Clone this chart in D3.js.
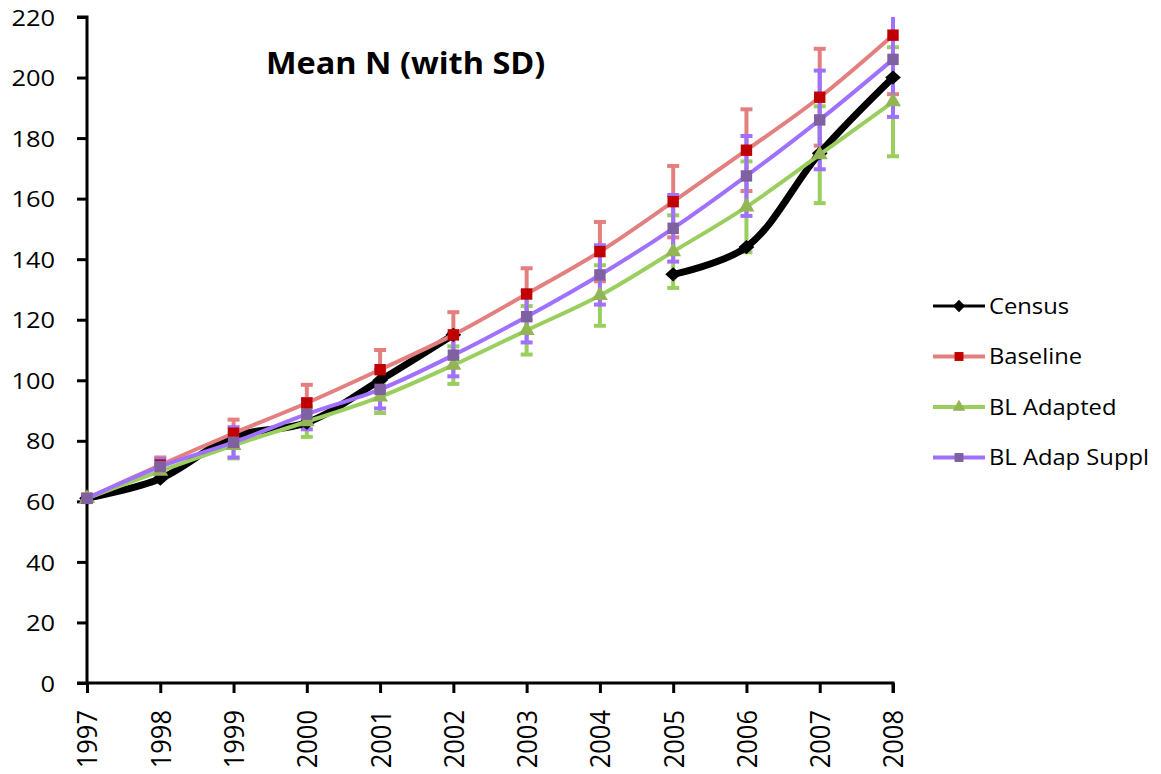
<!DOCTYPE html>
<html>
<head>
<meta charset="utf-8">
<script src="https://cdn.jsdelivr.net/npm/d3@7"></script>
<style>
  body { margin: 0; background: white; }
  text { font-family: "Open Sans", sans-serif; fill: black; }
</style>
</head>
<body>
<div id="chart"></div>
<script>
const years = [1997, 1998, 1999, 2000, 2001, 2002, 2003, 2004, 2005, 2006, 2007, 2008];
const census = [61, 67.5, 81.5, 86, 100, 115, null, null, 135, 144, 175, 200];
const baseline = [61, 72, 82.5, 92.5, 103.5, 115, 128.5, 142.5, 159, 176, 193.5, 214];
const baselineSD = [0, 2.5, 4.5, 6, 6.5, 7.5, 8.5, 9.8, 11.8, 13.5, 16, 19.5];
const adapted = [61, 70, 78.5, 86.3, 94.5, 105, 116.5, 128, 142.5, 157.3, 174.5, 192];
const adaptedSD = [0, 2, 4.3, 5, 5.3, 6.2, 8, 10, 12, 15, 16, 18];
const suppl = [61, 71.5, 79.5, 88.8, 97, 108.3, 121, 134.8, 150.2, 167.5, 186, 206];
const supplSD = [0, 2.5, 5, 5, 6.3, 7, 8.5, 9.8, 11, 13.2, 16.3, 19];
const yTicks = [0, 20, 40, 60, 80, 100, 120, 140, 160, 180, 200, 220];

const wSvg = 1161;
const hSvg = 774;
const pLeft = 87, pRight = 893, pTop = 17, pBottom = 683;

const series = [
    {name: "Census", values: census, sd: null, line: "#000000", marker: "#000000", shape: d3.symbolDiamond, width: 7, size: 150},
    {name: "Baseline", values: baseline, sd: baselineSD, line: "#E47F7F", marker: "#C00000", shape: d3.symbolSquare, width: 4, size: 130},
    {name: "BL Adapted", values: adapted, sd: adaptedSD, line: "#9ACF5F", marker: "#93B556", shape: d3.symbolTriangle, width: 4, size: 110},
    {name: "BL Adap Suppl", values: suppl, sd: supplSD, line: "#A070FF", marker: "#7F60A0", shape: d3.symbolSquare, width: 4, size: 130}
];

let xScale = d3.scalePoint(years, [pLeft, pRight]);
let yScale = d3.scaleLinear([0, 220], [pBottom, pTop]);

let svg = d3.select("#chart")
    .append("svg")
    .attr("width", wSvg)
    .attr("height", hSvg);

svg.append("defs").append("clipPath")
    .attr("id", "plotClip")
    .append("rect")
    .attr("x", 0)
    .attr("y", pTop)
    .attr("width", wSvg)
    .attr("height", pBottom - pTop + 20);

// axes (the original picture is a bit stretched sideways, so text gets a small x scale)
let yAxis = d3.axisLeft(yScale).tickValues(yTicks).tickSize(10);
let yG = svg.append("g")
    .attr("transform", `translate(${pLeft}, 0)`)
    .call(yAxis);
yG.selectAll("text")
    .style("font-size", "22.5px")
    .attr("x", 0)
    .attr("dy", "0.36em")
    .attr("transform", "translate(-32, 0) scale(1.13, 1)");

let xAxis = d3.axisBottom(xScale).tickSize(10);
let xG = svg.append("g")
    .attr("transform", `translate(0, ${pBottom})`)
    .call(xAxis);
xG.selectAll("text")
    .style("font-size", "25.5px")
    .attr("text-anchor", "end")
    .attr("x", 0)
    .attr("y", 0)
    .attr("dy", "0.36em")
    .attr("transform", "translate(0, 27) scale(1.08, 1) rotate(-90)");

svg.selectAll(".domain, .tick line")
    .attr("stroke", "black")
    .attr("stroke-width", 3);
yG.select(".domain").attr("d", `M-10,${pTop}H0V${pBottom}`);
xG.select(".domain").attr("d", `M${pLeft - 10},0H${pRight}V10`);

let plot = svg.append("g").attr("clip-path", "url(#plotClip)");

// error bars
for (let s of series) {
    if (!s.sd) continue;
    let g = plot.append("g");
    let rows = years.map((y, i) => ({year: y, v: s.values[i], sd: s.sd[i]})).filter(d => d.sd > 0);
    g.selectAll(null)
        .data(rows)
        .enter()
        .append("line")
        .attr("x1", d => xScale(d.year))
        .attr("x2", d => xScale(d.year))
        .attr("y1", d => yScale(d.v - d.sd))
        .attr("y2", d => yScale(d.v + d.sd))
        .attr("stroke", s.line)
        .attr("stroke-width", 4);
    for (let sign of [-1, 1]) {
        g.selectAll(null)
            .data(rows)
            .enter()
            .append("line")
            .attr("x1", d => xScale(d.year) - 6)
            .attr("x2", d => xScale(d.year) + 6)
            .attr("y1", d => yScale(d.v + sign * d.sd))
            .attr("y2", d => yScale(d.v + sign * d.sd))
            .attr("stroke", s.line)
            .attr("stroke-width", 4);
    }
}

// lines and markers
for (let s of series) {
    let pts = years.map((y, i) => ({year: y, v: s.values[i]}));
    let line = d3.line()
        .defined(d => d.v !== null)
        .x(d => xScale(d.year))
        .y(d => yScale(d.v))
        .curve(d3.curveCatmullRom.alpha(0.5));
    plot.append("path")
        .attr("d", line(pts))
        .attr("fill", "none")
        .attr("stroke", s.line)
        .attr("stroke-width", s.width)
        .attr("stroke-linejoin", "round");
    plot.selectAll(null)
        .data(pts.filter(d => d.v !== null))
        .enter()
        .append("path")
        .attr("d", d3.symbol().type(s.shape).size(s.size))
        .attr("transform", d => `translate(${xScale(d.year)}, ${yScale(d.v)})` + (s.shape === d3.symbolDiamond ? " scale(1.2, 0.62)" : ""))
        .attr("fill", s.marker);
}

// title
svg.append("text")
    .attr("transform", "translate(266, 74) scale(1.1, 1)")
    .style("font-size", "29.5px")
    .style("font-weight", "bold")
    .text("Mean N (with SD)");

// legend
let legend = svg.append("g");
series.forEach((s, i) => {
    let y = 306 + i * 50.5;
    legend.append("line")
        .attr("x1", 933)
        .attr("x2", 985)
        .attr("y1", y)
        .attr("y2", y)
        .attr("stroke", s.line)
        .attr("stroke-width", s.name === "Census" ? 3 : 4);
    legend.append("path")
        .attr("d", d3.symbol().type(s.shape).size(s.shape === d3.symbolDiamond ? 90 : s.shape === d3.symbolTriangle ? 70 : 80))
        .attr("transform", `translate(959, ${y})` + (s.shape === d3.symbolDiamond ? " scale(1.2, 0.7)" : ""))
        .attr("fill", s.marker);
    legend.append("text")
        .attr("transform", `translate(989, ${y}) scale(1.08, 1)`)
        .attr("dy", "0.36em")
        .style("font-size", "22px")
        .text(s.name);
});
</script>
</body>
</html>
